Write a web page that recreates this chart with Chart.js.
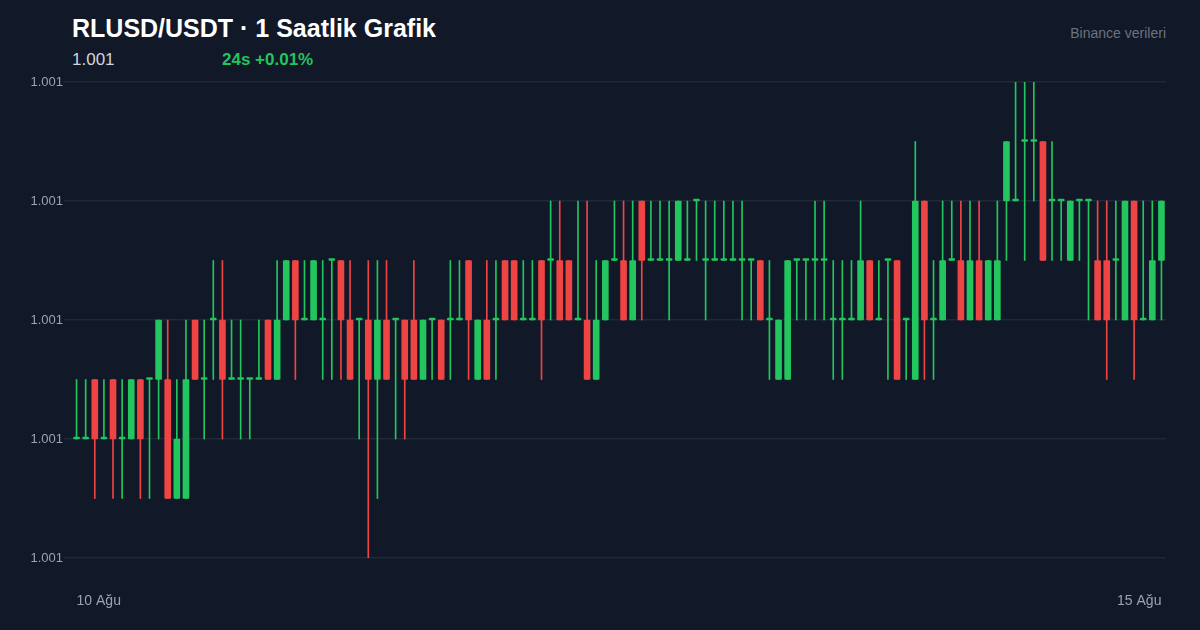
<!DOCTYPE html>
<html><head><meta charset="utf-8">
<script src="https://cdn.jsdelivr.net/npm/chart.js@4"></script>
<style>
html,body{margin:0;padding:0;background:#111827;width:1200px;height:630px;overflow:hidden;font-family:"Liberation Sans",Arial,sans-serif}
#t{position:absolute;left:72px;top:14px;color:#fff;font-size:25px;font-weight:700}
#p{position:absolute;left:72px;top:50px;color:#d1d5db;font-size:17px}
#c{position:absolute;left:222px;top:50px;color:#22c55e;font-size:17px;font-weight:700}
#s{position:absolute;right:34px;top:25px;color:#6b7280;font-size:14px}
#w{position:absolute;left:0;top:0;width:1200px;height:630px}
</style></head><body>
<div id="t">RLUSD/USDT · 1 Saatlik Grafik</div>
<div id="p">1.001</div>
<div id="c">24s +0.01%</div>
<div id="s">Binance verileri</div>
<div id="w"><canvas id="cv"></canvas></div>
<script>
// level index L -> price 1.0008 + L*0.00005
const tickLabels = ["10 Ağu","15 Ağu"];
const openL  = [2,2,3,2,3,2,2,3,3,3,3,1,1,4,3,4,4,3,3,3,3,4,3,4,5,4,4,4,5,5,4,4,4,3,4,4,4,4,3,4,4,4,4,5,3,4,4,5,5,4,4,5,5,5,5,4,4,3,4,5,5,4,6,5,5,5,5,5,6,5,5,5,5,5,5,5,4,3,3,5,5,5,5,4,4,4,4,5,4,5,5,4,3,6,4,4,5,5,4,5,4,4,6,6,7,7,7,6,6,5,6,6,5,5,5,4,6,4,4,5];
const closeL = [2,2,2,2,2,2,3,2,3,4,1,2,3,3,3,4,3,3,3,3,3,3,4,5,4,4,5,4,5,4,3,4,3,4,3,4,3,3,4,4,3,4,4,4,4,3,4,4,4,4,4,4,5,4,4,4,3,4,5,5,4,5,5,5,5,5,6,5,6,5,5,5,5,5,5,4,4,4,5,5,5,5,5,4,4,4,5,4,4,5,3,4,6,4,4,5,5,4,5,4,5,5,7,6,7,7,5,6,6,6,6,6,4,4,5,6,4,4,5,6];
const highL  = [3,3,3,3,3,3,3,3,3,4,4,3,4,4,4,5,5,4,4,3,4,4,5,5,5,5,5,5,5,5,5,4,5,5,5,4,4,5,4,4,4,5,5,5,4,5,5,5,5,5,5,5,6,6,5,6,6,5,5,6,6,6,6,6,6,6,6,6,6,6,6,6,6,6,5,5,5,4,5,5,5,6,6,5,5,5,6,5,5,5,5,4,7,6,5,6,6,6,6,6,5,6,7,8,8,8,7,7,6,6,6,6,6,6,6,6,6,6,6,6];
const lowL   = [2,2,1,2,1,1,2,1,1,2,1,1,1,3,2,3,2,3,2,2,3,3,3,4,3,4,4,3,3,3,3,2,0,1,3,2,2,3,3,3,3,3,4,3,3,3,3,4,4,4,4,3,4,4,4,4,3,3,4,5,4,4,4,5,5,4,5,5,5,4,5,5,5,4,4,4,3,3,3,4,4,4,4,3,3,4,4,4,4,3,3,3,3,3,3,4,5,4,4,4,4,4,5,6,5,6,5,5,5,5,5,4,4,3,4,4,3,4,4,4];
const toP = l => 1.0008 + l*0.00005;
const N = openL.length;
const cats = openL.map((_,i)=>i);
const up = i => closeL[i] >= openL[i];
const colors = cats.map(i => up(i) ? '#22c55e' : '#ef4444');
new Chart(document.getElementById('cv'), {
  type:'bar',
  data:{labels:cats, datasets:[
    {data:cats.map(i=>[toP(lowL[i]),toP(highL[i])]), backgroundColor:colors, barThickness:1, grouped:false, order:2},
    {data:cats.map(i=>[toP(openL[i]),toP(closeL[i])]), backgroundColor:colors, barThickness:6, minBarLength:2, grouped:false, order:1, borderRadius:1, borderSkipped:false}
  ]},
  options:{responsive:true, maintainAspectRatio:false, animation:false,
    layout:{padding:{top:82,right:34,left:0,bottom:0}},
    plugins:{legend:{display:false},tooltip:{enabled:false}},
    scales:{
      x:{offset:true, grid:{display:false}, border:{display:false},
        afterFit:s=>{s.height=72},
        ticks:{color:'#9ca3af',font:{size:14,family:'Liberation Sans'},padding:27,autoSkip:false,maxRotation:0,align:'inner',
          callback:(v,i)=> i===0?tickLabels[0]:(i===N-1?tickLabels[1]:null)}},
      y:{min:1.0008,max:1.0012, grid:{color:'#1f2937',lineWidth:1.5}, border:{display:false},
        afterFit:s=>{s.width=72},
        ticks:{stepSize:0.0001,color:'#9ca3af',font:{size:13,family:'Liberation Sans'},padding:1,callback:v=>v.toFixed(3)}}
    }}
});
</script></body></html>
